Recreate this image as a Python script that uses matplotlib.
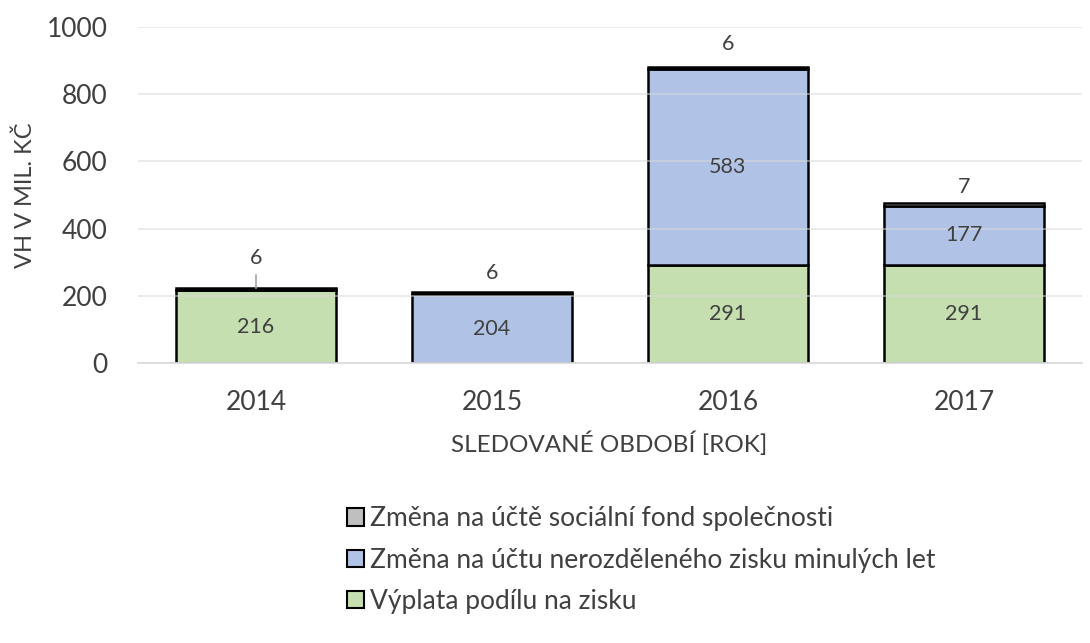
import matplotlib
matplotlib.use("Agg")
import matplotlib.pyplot as plt
import numpy as np
from matplotlib.patches import Patch

years = ["2014", "2015", "2016", "2017"]
vyplata = [216, 0, 291, 291]
nerozdeleny = [0, 204, 583, 177]
socialni = [6, 6, 6, 7]

series_names = ["Změna na účtě sociální fond společnosti",
                "Změna na účtu nerozděleného zisku minulých let",
                "Výplata podílu na zisku"]

plt.rcParams['font.family'] = ['Lato', 'DejaVu Sans']
txt = '#404040'

fig = plt.figure(figsize=(10.9, 6.43), dpi=100)
ax = fig.add_axes([0.1266, 0.4355, 0.866, 0.5225])

x = np.arange(len(years))
w = 0.68
green = '#C5DFB0'
blue = '#B0C3E6'
gray = '#BFBFBF'
lw = 1.8

ax.bar(x, vyplata, w, color=green, edgecolor='black', linewidth=lw, zorder=2)
ax.bar(x, nerozdeleny, w, bottom=vyplata, color=blue, edgecolor='black', linewidth=lw, zorder=2)
bottom3 = np.array(vyplata) + np.array(nerozdeleny)
ax.bar(x, socialni, w, bottom=bottom3, color=gray, edgecolor='black', linewidth=lw, zorder=2)

ax.set_ylim(0, 1000)
ax.set_xlim(-0.5, 3.5)
ax.set_yticks(range(0, 1001, 200))
ax.grid(axis='y', color='#d9d9d9', linewidth=1.2, zorder=3, alpha=0.6)
ax.set_axisbelow(False)
for s in ['top', 'right', 'left']:
    ax.spines[s].set_visible(False)
ax.spines['bottom'].set_color('#d9d9d9')
ax.spines['bottom'].set_linewidth(1.2)
ax.tick_params(axis='both', length=0, labelsize=19, colors=txt)
ax.tick_params(axis='y', pad=22)
ax.set_xticks(x)
ax.set_xticklabels(years)
ax.tick_params(axis='x', pad=19.5)

fig.text(25 / 1090, 1 - 195 / 643, "VH V MIL. KČ", rotation=90, ha='center', va='center',
         fontsize=17, color=txt)
fig.text(609 / 1090, 1 - 444 / 643, "SLEDOVANÉ OBDOBÍ [ROK]", ha='center', va='center',
         fontsize=17.5, color=txt)

offsets = [90, 58, 69, 49]
for i in range(len(years)):
    if vyplata[i]:
        ax.text(x[i], vyplata[i] / 2, str(vyplata[i]), ha='center', va='center', fontsize=15.5, color=txt, zorder=5)
    if nerozdeleny[i]:
        ax.text(x[i], vyplata[i] + nerozdeleny[i] / 2, str(nerozdeleny[i]), ha='center', va='center', fontsize=15.5, color=txt, zorder=5)
    top = bottom3[i] + socialni[i]
    ax.text(x[i], top + offsets[i], str(socialni[i]), ha='center', va='center', fontsize=15.5, color=txt, zorder=5)
    if i == 0:
        ax.plot([x[i], x[i]], [top, top + 40], color='#a6a6a6', linewidth=1.2, zorder=4)

handles = [Patch(facecolor=gray, edgecolor='black', linewidth=1.5),
           Patch(facecolor=blue, edgecolor='black', linewidth=1.5),
           Patch(facecolor=green, edgecolor='black', linewidth=1.5)]
leg = fig.legend(handles, series_names, loc='upper left', bbox_to_anchor=(0.318, 0.2127),
                 frameon=False, fontsize=19, labelcolor=txt, handlelength=0.65, handleheight=0.65,
                 handletextpad=0.25, labelspacing=0.62, borderaxespad=0, borderpad=0)

fig.savefig("out.png", dpi=100)
